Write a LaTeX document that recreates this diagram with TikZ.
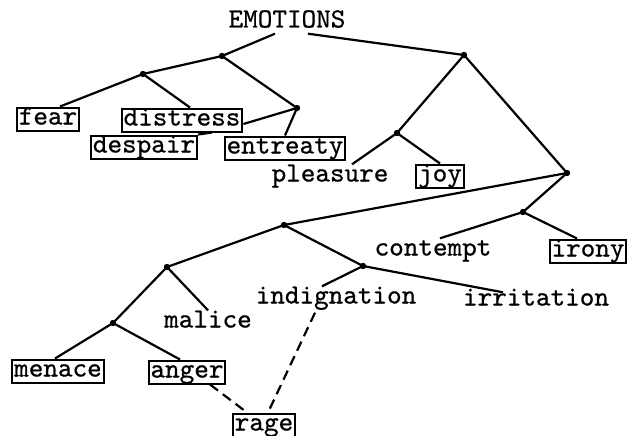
\documentclass[tikz,border=0pt]{standalone}
\usepackage{fontspec}
\newfontfamily\typer[FakeBold=0.7]{lmmono10-regular.otf}
\usetikzlibrary{calc}

\begin{document}
\begin{tikzpicture}[x=1pt, y=-1pt,
  every node/.style={font=\typer\fontsize{27.8}{30}\selectfont,
    inner sep=2pt, text height=15pt, text depth=4pt},
  leaf/.style={draw, line width=2pt},
  branch/.style={line width=2.2pt},
  guess/.style={line width=2.2pt, dash pattern=on 10pt off 6pt}]
  \useasboundingbox (0,0) rectangle (629,436);
  % forks of the tree
  \foreach \x/\y/\name in {
    222/56/A, 143/74/B, 297/108/C, 464/55/D, 397/133/E, 567/173/F,
    523/212/G, 284/225/H, 363/266/I, 167/267/J, 113/323/K}
  {
    \coordinate (\name) at (\x,\y);
    \fill[black] (\name) circle[radius=3.2pt];
  }
  \node (emotions) at (287,22) {EMOTIONS};
  \node[leaf] (fear) at (48,119) {fear};
  \node[leaf] (distress) at (182,120) {distress};
  \node[leaf] (despair) at (144,147) {despair};
  \node[leaf] (entreaty) at (285,148) {entreaty};
  \node (pleasure) at (330,176) {pleasure};
  \node[leaf] (joy) at (440,176) {joy};
  \node (contempt) at (433,250) {contempt};
  \node[leaf] (irony) at (588,251) {irony};
  \node (indignation) at (336,298) {indignation};
  \node (irritation) at (536,300) {irritation};
  \node (malice) at (208,322) {malice};
  \node[leaf] (menace) at (58,371) {menace};
  \node[leaf] (anger) at (187,372) {anger};
  \node[leaf] (rage) at (264,425) {rage};

  \draw[branch] ([xshift=-12pt]emotions.south) -- (A) -- (B) -- ([xshift=12pt]fear.north);
  \draw[branch] (B) -- ([xshift=8pt]distress.north);
  \draw[branch] (A) -- (C) -- ([yshift=-4pt]distress.east);
  \draw[branch] (C) -- (entreaty.north);
  \draw[branch] ([xshift=30pt]distress.south) -- (despair.north east);
  \draw[branch] ([xshift=21pt]emotions.south) -- (D) -- (E) -- ([xshift=22pt]pleasure.north);
  \draw[branch] (E) -- (joy.north);
  \draw[branch] (D) -- (F) -- (H);
  \draw[branch] (F) -- (G) -- ([xshift=7pt]contempt.north);
  \draw[branch] (G) -- ([xshift=-11pt]irony.north);
  \draw[branch] (H) -- (I) -- ([xshift=-14pt]indignation.north);
  \draw[branch] (I) -- ([xshift=-33pt,yshift=-4pt]irritation.north);
  \draw[branch] (H) -- (J) -- (malice.north);
  \draw[branch] (J) -- (K) -- ([xshift=-3pt]menace.north);
  \draw[branch] (K) -- ([xshift=-7pt]anger.north);
  \draw[guess] ([xshift=23pt]anger.south) -- ([xshift=-17pt]rage.north);
  \draw[guess] ([xshift=-21pt,yshift=-3pt]indignation.south) -- ([xshift=4pt]rage.north);
\end{tikzpicture}
\end{document}
